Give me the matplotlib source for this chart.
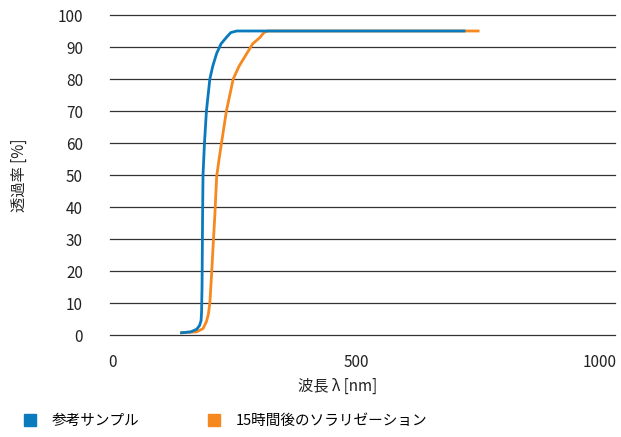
import numpy as np
from matplotlib import pyplot as plt
from matplotlib.lines import Line2D

plt.rcParams['font.family'] = ['Noto Sans CJK JP', 'DejaVu Sans']

# wavelength (nm) / transmittance (%)
blue_nm = [141, 160, 172, 178, 181, 182, 183, 184, 185, 188, 192, 199, 205, 213, 222, 233, 242, 254, 300, 721]
blue_t = [0.7, 1.0, 1.8, 3.0, 4.5, 7, 15, 35, 50, 60, 70, 80, 84, 88, 91, 93, 94.5, 95, 95, 95]
orange_nm = [141, 172, 185, 192, 196, 199, 203, 206, 209.5, 213, 218, 223, 233, 247, 259, 275, 287, 302, 310, 318, 350, 750]
orange_t = [0.7, 1.0, 2.0, 4.2, 6.5, 10, 20, 28.6, 38, 49.5, 55, 60, 70, 80, 84, 88, 91, 93, 94.5, 95, 95, 95]
labels = ['参考サンプル', '15時間後のソラリゼーション']
colors = ['#0a7abf', '#f5891f']
x_ticks = [0, 500, 1000]
y_ticks = np.arange(0, 101, 10)

fig = plt.figure(figsize=(6.21, 4.37), dpi=100)
ax = fig.add_axes([110/621, 1-335/437, 505/621, 320/437])

for y in y_ticks:
    ax.axhline(y, color='#333333', lw=0.9, zorder=1, clip_on=False)

ax.plot(blue_nm, blue_t, color=colors[0], lw=2, zorder=3, solid_joinstyle='round')
ax.plot(orange_nm, orange_t, color=colors[1], lw=2, zorder=2, solid_joinstyle='round')

ax.set_xlim(-6, 1031)
ax.set_ylim(0, 100)
ax.set_xticks(x_ticks)
ax.set_yticks(y_ticks)
ax.tick_params(axis='both', length=0, labelsize=11, colors='#222222')
ax.tick_params(axis='y', pad=19.5)
ax.tick_params(axis='x', pad=14)
for s in ax.spines.values():
    s.set_visible(False)

ax.set_xlabel('波長 λ [nm]', fontsize=11, color='#222222', labelpad=6)
ax.xaxis.set_label_coords(0.451, -0.135)
ax.set_ylabel('透過率 [%]', fontsize=11, color='#222222', labelpad=21)

handles = [Line2D([], [], marker='s', ls='none', color=c, markersize=9) for c in colors]
fig.legend(handles, labels, loc='lower left', bbox_to_anchor=(0.015, -0.01), ncol=2,
           frameon=False, fontsize=10.5, handlelength=1.0, handletextpad=1.0,
           columnspacing=4.6)

fig.savefig('out.png', dpi=100)
